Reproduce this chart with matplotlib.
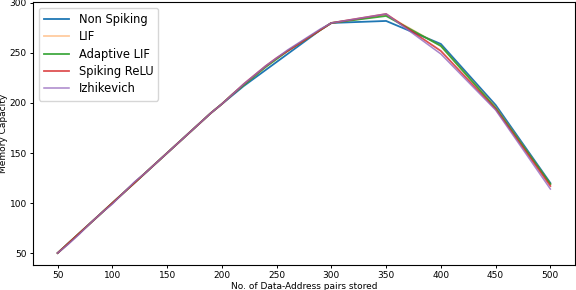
import matplotlib
matplotlib.use("Agg")
import matplotlib.pyplot as plt

pairs = [50, 60, 70, 80, 90, 100, 110, 120, 130, 140, 150, 160, 170, 180, 190,
         200, 210, 220, 230, 240, 250, 260, 270, 280, 290, 300, 350, 400, 450, 500]

non_spiking = [50, 60, 70, 80, 90, 100, 110, 120, 130, 140, 150, 160, 170, 180, 190,
               199, 208, 217, 225, 233, 241, 249, 257, 265, 273, 280, 282, 259, 198, 120]
lif = [50, 60, 70, 80, 90, 100, 110, 120, 130, 140, 150, 160, 170, 180, 190,
       199, 209, 218, 227, 236, 244, 252, 259, 266, 273, 280, 288, 257, 196, 119]
adaptive_lif = [50, 60, 70, 80, 90, 100, 110, 120, 130, 140, 150, 160, 170, 180, 190,
                199, 209, 218, 227, 236, 244, 252, 259, 266, 273, 280, 287, 257, 195, 119]
spiking_relu = [50, 60, 70, 80, 90, 100, 110, 120, 130, 140, 150, 160, 170, 180, 190,
                199, 209, 219, 228, 237, 245, 252, 259, 266, 273, 280, 289, 252, 194, 117]
izhikevich = [50, 59, 69, 80, 90, 99, 110, 121, 130, 140, 150, 160, 170, 180, 190,
              199, 209, 219, 228, 237, 245, 253, 260, 267, 274, 280, 289, 249, 193, 114]

series = [("Non Spiking", non_spiking, 1.0, 1.3), ("LIF", lif, 0.4, 1.3),
          ("Adaptive LIF", adaptive_lif, 0.9, 1.3), ("Spiking ReLU", spiking_relu, 0.8, 1.3),
          ("Izhikevich", izhikevich, 0.8, 1.1)]

fig = plt.figure(figsize=(5.76, 2.9), dpi=100)
ax = fig.add_axes([33 / 576, 25 / 290, 542 / 576, 263 / 290])
for name, vals, a, lw in series:
    ax.plot(pairs, vals, label=name, linewidth=lw, alpha=a)

ax.set_xticks(range(50, 501, 50))
ax.set_yticks(range(50, 301, 50))
ax.tick_params(labelsize=6.5, length=2.5, width=0.7, pad=2)
for s in ax.spines.values():
    s.set_linewidth(0.8)
ax.set_xlabel("No. of Data-Address pairs stored", fontsize=6.5, labelpad=1)
ax.set_ylabel("Memory Capacity", fontsize=6.5, labelpad=1)
ax.legend(loc="upper left", fontsize=8.3, handlelength=2.2, borderpad=0.45,
          labelspacing=0.38)

fig.savefig("out.png", dpi=100)
